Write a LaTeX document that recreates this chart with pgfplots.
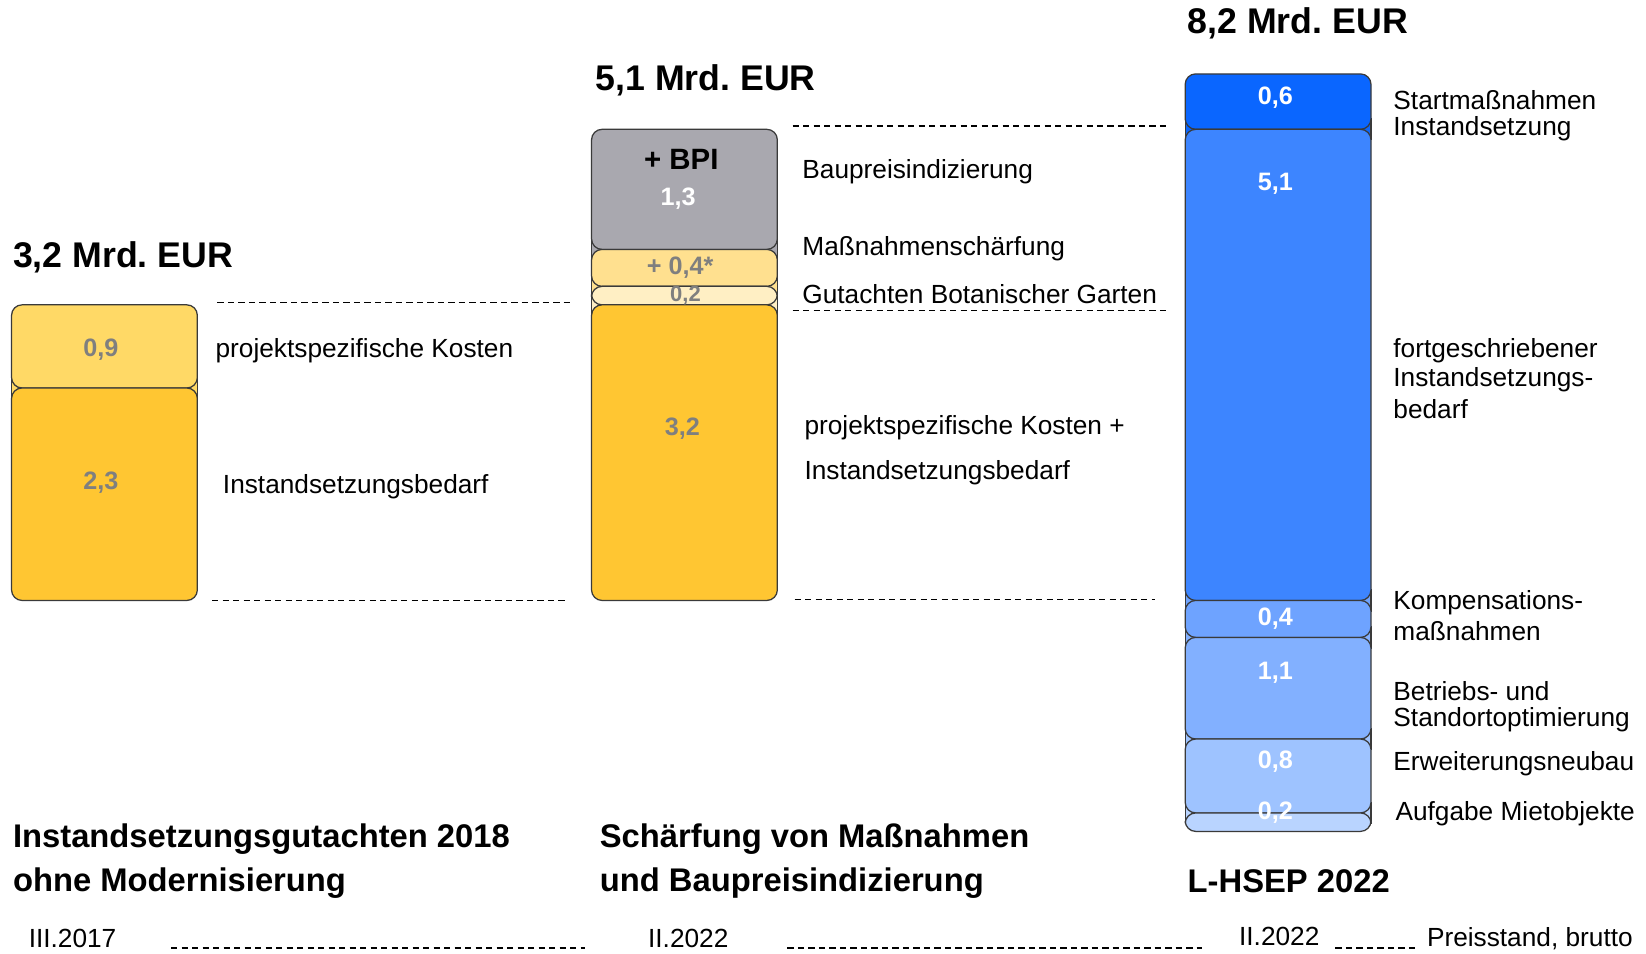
\documentclass[border=0pt]{standalone}
\usepackage{fontspec}
\setmainfont{Liberation Sans}
\usepackage{pgfplots}
\pgfplotsset{compat=1.18}
\frenchspacing

\definecolor{goldA}{HTML}{FFC632}
\definecolor{goldB}{HTML}{FFD966}
\definecolor{goldC}{HTML}{FFE08F}
\definecolor{goldD}{HTML}{FFEFC4}
\definecolor{grayA}{HTML}{A9A8AF}
\definecolor{blueA}{HTML}{0A66FF}
\definecolor{blueB}{HTML}{3D85FF}
\definecolor{blueC}{HTML}{6EA3FF}
\definecolor{blueD}{HTML}{82B0FF}
\definecolor{blueE}{HTML}{9EC3FF}
\definecolor{blueF}{HTML}{B9D4FF}
\definecolor{numgray}{HTML}{7F7F7F}
\definecolor{edge}{HTML}{3A3A3A}

% picture row (0 = top, 908 = bottom) -> value on the y axis
\newcommand{\py}[1]{2.5+(572-#1)/88}

\pgfplotsset{
  panel/.style={
    scale only axis, width=784pt, height=454pt,
    xmin=0, xmax=1568, ymin=-1.318, ymax=9,
    axis lines=none, clip=false,
    ybar stacked, bar width=177,
    every axis plot/.append style={draw=edge, line width=0.6pt, rounded corners=5pt},
  },
  nobar/.style={draw=none, fill=none},
  % square patch behind a joint, so the rounded corners show the segment behind
  joint/.style={sharp corners, fill=#1},
}
\tikzset{
  lab/.style={anchor=west, inner sep=0pt, font=\fontsize{12.5}{15}\selectfont},
  tot/.style={anchor=west, inner sep=0pt, font=\fontsize{17}{20}\selectfont\bfseries},
  ttl/.style={anchor=west, inner sep=0pt, font=\fontsize{15.6}{18}\selectfont\bfseries},
  num/.style={inner sep=0pt, font=\fontsize{12}{14}\selectfont\bfseries},
  guide/.style={dash pattern=on 3pt off 2pt, line width=0.6pt, black},
}

\begin{document}
\begin{tikzpicture}
% joints (corner radius 5pt = 0.114 on the y axis)
\begin{axis}[panel]
\addplot[nobar] coordinates {(99.5,4.686)};
\addplot[joint=goldB] coordinates {(99.5,0.228)};
\end{axis}
\begin{axis}[panel]
\addplot[nobar] coordinates {(652,5.586)};
\addplot[joint=goldD] coordinates {(652,0.214)};
\addplot[joint=goldC] coordinates {(652,0.214)};
\addplot[nobar] coordinates {(652,0.172)};
\addplot[joint=grayA] coordinates {(652,0.228)};
\end{axis}
\begin{axis}[panel]
\addplot[nobar] coordinates {(1217.5,0.086)};
\addplot[joint=blueF] coordinates {(1217.5,0.228)};
\addplot[nobar] coordinates {(1217.5,0.572)};
\addplot[joint=blueE] coordinates {(1217.5,0.228)};
\addplot[nobar] coordinates {(1217.5,0.872)};
\addplot[joint=blueD] coordinates {(1217.5,0.228)};
\addplot[nobar] coordinates {(1217.5,0.172)};
\addplot[joint=blueC] coordinates {(1217.5,0.228)};
\addplot[nobar] coordinates {(1217.5,4.872)};
\addplot[joint=blueA] coordinates {(1217.5,0.228)};
\end{axis}

% bar 1: Instandsetzungsgutachten 2018
\begin{axis}[panel]
\addplot[nobar] coordinates {(99.5,2.5)};
\addplot[fill=goldA] coordinates {(99.5,2.3)};
\addplot[fill=goldB] coordinates {(99.5,0.9)};
\end{axis}
% bar 2: Schaerfung + BPI
\begin{axis}[panel]
\addplot[nobar] coordinates {(652,2.5)};
\addplot[fill=goldA] coordinates {(652,3.2)};
\addplot[fill=goldD] coordinates {(652,0.2)};
\addplot[fill=goldC] coordinates {(652,0.4)};
\addplot[fill=grayA] coordinates {(652,1.3)};
\end{axis}
% bar 3: L-HSEP 2022
\begin{axis}[panel]
\addplot[fill=blueF] coordinates {(1217.5,0.2)};
\addplot[fill=blueE] coordinates {(1217.5,0.8)};
\addplot[fill=blueD] coordinates {(1217.5,1.1)};
\addplot[fill=blueC] coordinates {(1217.5,0.4)};
\addplot[fill=blueB] coordinates {(1217.5,5.1)};
\addplot[fill=blueA] coordinates {(1217.5,0.6)};
\end{axis}

% annotations on top
\begin{axis}[panel]
% dashed guide lines
\draw[guide] (axis cs:207,{\py{288}}) -- (axis cs:545,{\py{288}});
\draw[guide] (axis cs:202,{\py{572}}) -- (axis cs:540,{\py{572}});
\draw[guide] (axis cs:755,{\py{120}}) -- (axis cs:1112,{\py{120}});
\draw[guide] (axis cs:755,{\py{296}}) -- (axis cs:1112,{\py{296}});
\draw[guide] (axis cs:757,{\py{571}}) -- (axis cs:1100,{\py{571}});
\draw[guide] (axis cs:163,{\py{903}}) -- (axis cs:557,{\py{903}});
\draw[guide] (axis cs:750,{\py{903}}) -- (axis cs:1145,{\py{903}});
\draw[guide] (axis cs:1272,{\py{903}}) -- (axis cs:1349,{\py{903}});

% totals
\node[tot] at (axis cs:12,{\py{245}}) {3,2 Mrd. EUR};
\node[tot] at (axis cs:567,{\py{77}}) {5,1 Mrd. EUR};
\node[tot] at (axis cs:1131,{\py{22}}) {8,2 Mrd. EUR};

% segment values
\node[num,numgray] at (axis cs:96,{\py{333}}) {0,9};
\node[num,numgray] at (axis cs:96,{\py{460}}) {2,3};
\node[num,black,font=\fontsize{14}{16}\selectfont\bfseries] at (axis cs:649,{\py{152}}) {+ BPI};
\node[num,white] at (axis cs:646,{\py{189}}) {1,3};
\node[num,numgray] at (axis cs:648,6.1) {+ 0,4*};
\node[num,numgray,font=\fontsize{10.5}{12}\selectfont\bfseries] at (axis cs:653,5.8) {0,2};
\node[num,numgray] at (axis cs:650,{\py{408}}) {3,2};
\node[num,white] at (axis cs:1215,{\py{93}}) {0,6};
\node[num,white] at (axis cs:1215,{\py{175}}) {5,1};
\node[num,white] at (axis cs:1215,{\py{589}}) {0,4};
\node[num,white] at (axis cs:1215,{\py{641}}) {1,1};
\node[num,white] at (axis cs:1215,{\py{726}}) {0,8};
\node[num,white] at (axis cs:1215,{\py{774}}) {0,2};

% segment descriptions
\node[lab] at (axis cs:205,{\py{334}}) {projektspezifische Kosten};
\node[lab] at (axis cs:212,{\py{464}}) {Instandsetzungsbedarf};
\node[lab] at (axis cs:764,{\py{164}}) {Baupreisindizierung};
\node[lab] at (axis cs:764,{\py{237}}) {Maßnahmenschärfung};
\node[lab] at (axis cs:764,{\py{280}}) {Gutachten Botanischer Garten};
\node[lab] at (axis cs:766,{\py{407}}) {projektspezifische Kosten +};
\node[lab] at (axis cs:766,{\py{450}}) {Instandsetzungsbedarf};
\node[lab] at (axis cs:1327,{\py{95}}) {Startmaßnahmen};
\node[lab] at (axis cs:1327,{\py{123}}) {Instandsetzung};
\node[lab] at (axis cs:1327,{\py{334}}) {fortgeschriebener};
\node[lab] at (axis cs:1327,{\py{362}}) {Instandsetzungs-};
\node[lab] at (axis cs:1327,{\py{390}}) {bedarf};
\node[lab] at (axis cs:1327,{\py{574}}) {Kompensations-};
\node[lab] at (axis cs:1327,{\py{601}}) {maßnahmen};
\node[lab] at (axis cs:1327,{\py{658}}) {Betriebs- und};
\node[lab] at (axis cs:1327,{\py{686}}) {Standortoptimierung};
\node[lab] at (axis cs:1327,{\py{728}}) {Erweiterungsneubau};
\node[lab] at (axis cs:1329,{\py{775}}) {Aufgabe Mietobjekte};

% scenario titles
\node[ttl] at (axis cs:12,{\py{799}}) {Instandsetzungsgutachten 2018};
\node[ttl] at (axis cs:12,{\py{841}}) {ohne Modernisierung};
\node[ttl] at (axis cs:571,{\py{799}}) {Schärfung von Maßnahmen};
\node[ttl] at (axis cs:571,{\py{841}}) {und Baupreisindizierung};
\node[ttl] at (axis cs:1131,{\py{839}}) {L-HSEP 2022};

% price levels
\node[lab] at (axis cs:27,{\py{894}}) {III.2017};
\node[lab] at (axis cs:617,{\py{894}}) {II.2022};
\node[lab] at (axis cs:1180,{\py{892}}) {II.2022};
\node[lab] at (axis cs:1359,{\py{894}}) {Preisstand, brutto};
\end{axis}
\pgfresetboundingbox
\path (current axis.south west) rectangle (current axis.north east);
\end{tikzpicture}
\end{document}
